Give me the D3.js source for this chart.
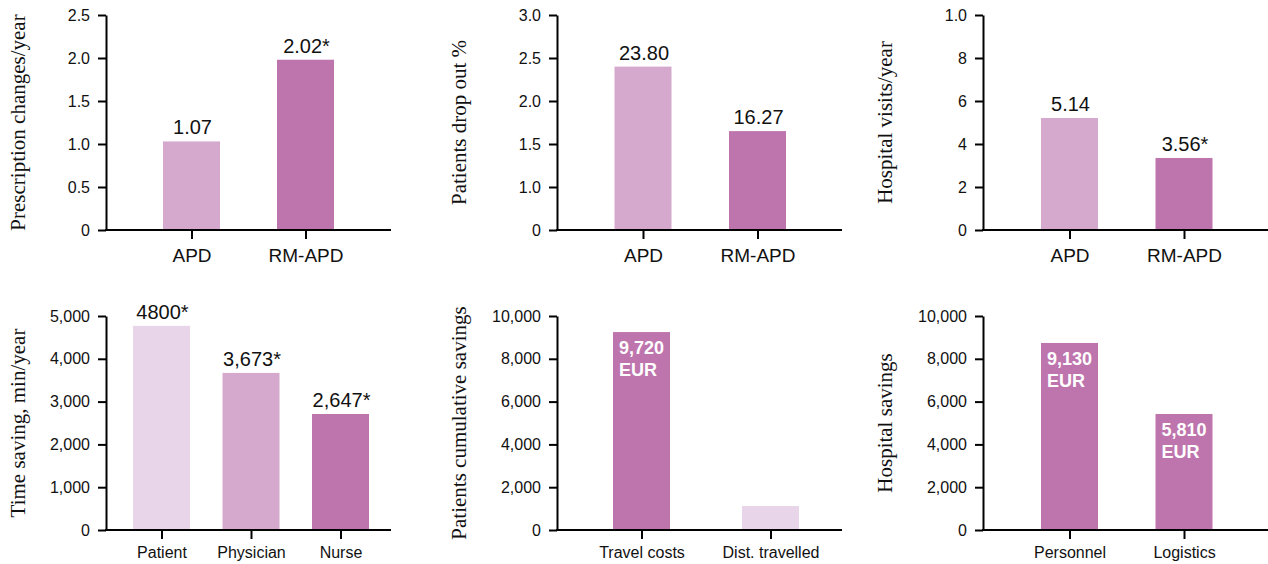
<!DOCTYPE html>
<html><head><meta charset="utf-8">
<script src="https://cdn.jsdelivr.net/npm/d3@7"></script>
<style>
html,body{margin:0;padding:0;background:#fff;}
svg{display:block;}
</style></head>
<body>
<svg id="chart" width="1268" height="564"></svg>
<script>
// ---------- DATA ----------
const p1Categories = ["APD", "RM-APD"];
const p1Values = [1.03, 1.98];
const p1ValueLabels = ["1.07", "2.02*"];
const p1TickValues = [0, 0.5, 1, 1.5, 2, 2.5];
const p1TickLabels = ["0", "0.5", "1.0", "1.5", "2.0", "2.5"];
const p1Title = "Prescription changes/year";

const p2Categories = ["APD", "RM-APD"];
const p2Values = [2.40, 1.65];
const p2ValueLabels = ["23.80", "16.27"];
const p2TickValues = [0, 1, 1.5, 2, 2.5, 3];
const p2TickLabels = ["0", "1.0", "1.5", "2.0", "2.5", "3.0"];
const p2Title = "Patients drop out %";

const p3Categories = ["APD", "RM-APD"];
const p3Values = [5.21, 3.35];
const p3ValueLabels = ["5.14", "3.56*"];
const p3TickValues = [0, 2, 4, 6, 8, 10];
const p3TickLabels = ["0", "2", "4", "6", "8", "1.0"];
const p3Title = "Hospital visits/year";

const p4Categories = ["Patient", "Physician", "Nurse"];
const p4Values = [4770, 3670, 2710];
const p4ValueLabels = ["4800*", "3,673*", "2,647*"];
const p4TickValues = [0, 1000, 2000, 3000, 4000, 5000];
const p4TickLabels = ["0", "1,000", "2,000", "3,000", "4,000", "5,000"];
const p4Title = "Time saving, min/year";

const p5Categories = ["Travel costs", "Dist. travelled"];
const p5Values = [9250, 1120];
const p5InnerLabels = [["9,720", "EUR"], []];
const p5TickValues = [0, 2000, 4000, 6000, 8000, 10000];
const p5TickLabels = ["0", "2,000", "4,000", "6,000", "8,000", "10,000"];
const p5Title = "Patients cumulative savings";

const p6Categories = ["Personnel", "Logistics"];
const p6Values = [8740, 5420];
const p6InnerLabels = [["9,130", "EUR"], ["5,810", "EUR"]];
const p6TickValues = [0, 2000, 4000, 6000, 8000, 10000];
const p6TickLabels = ["0", "2,000", "4,000", "6,000", "8,000", "10,000"];
const p6Title = "Hospital savings";

// ---------- STYLE ----------
const C_LIGHTEST = "#E9D5E9", C_LIGHT = "#D5A9CE", C_DARK = "#BE75AD";
const SANS = "'Liberation Sans', Arial, Helvetica, sans-serif";
const SERIF = "'Liberation Serif', 'Times New Roman', serif";

const panels = [
  {cats:p1Categories, vals:p1Values, vlabels:p1ValueLabels, ticks:p1TickValues, tlabels:p1TickLabels, title:p1Title,
   colors:[C_LIGHT, C_DARK], ax:106, right:391, top:15, bottom:230, c0:191.5, c1:305.5, catFont:19, titleX:25,
   yDomain:[0, 2.5], yFrac:[0, 1]},
  {cats:p2Categories, vals:p2Values, vlabels:p2ValueLabels, ticks:p2TickValues, tlabels:p2TickLabels, title:p2Title,
   colors:[C_LIGHT, C_DARK], ax:557, right:842, top:15, bottom:230, c0:643, c1:757.5, catFont:19, titleX:466,
   yDomain:[0, 1, 3], yFrac:[0, 0.2, 1]},
  {cats:p3Categories, vals:p3Values, vlabels:p3ValueLabels, ticks:p3TickValues, tlabels:p3TickLabels, title:p3Title,
   colors:[C_LIGHT, C_DARK], ax:983, right:1268, top:15, bottom:230, c0:1069.5, c1:1184, catFont:19, titleX:892,
   yDomain:[0, 10], yFrac:[0, 1]},
  {cats:p4Categories, vals:p4Values, vlabels:p4ValueLabels, ticks:p4TickValues, tlabels:p4TickLabels, title:p4Title,
   colors:[C_LIGHTEST, C_LIGHT, C_DARK], ax:106, right:391, top:316, bottom:530, c0:161.5, c1:340.5, catFont:16, titleX:25,
   yDomain:[0, 5000], yFrac:[0, 1]},
  {cats:p5Categories, vals:p5Values, inner:p5InnerLabels, ticks:p5TickValues, tlabels:p5TickLabels, title:p5Title,
   colors:[C_DARK, C_LIGHTEST], ax:557, right:842, top:316, bottom:530, c0:641.5, c1:770.5, catFont:16, titleX:466,
   yDomain:[0, 10000], yFrac:[0, 1]},
  {cats:p6Categories, vals:p6Values, inner:p6InnerLabels, ticks:p6TickValues, tlabels:p6TickLabels, title:p6Title,
   colors:[C_DARK, C_DARK], ax:983, right:1268, top:316, bottom:530, c0:1069.5, c1:1184, catFont:16, titleX:892,
   yDomain:[0, 10000], yFrac:[0, 1]}
];

const svg = d3.select("#chart");
const BAR_W = 57;

panels.forEach(p => {
  const g = svg.append("g");
  const h = p.bottom - p.top;
  const y = d3.scaleLinear().domain(p.yDomain).range(p.yFrac.map(f => p.bottom - f * h));
  const x = d3.scalePoint().domain(p.cats).range([p.c0, p.c1]);

  // bars
  g.selectAll("rect.bar").data(p.vals).enter().append("rect")
    .attr("class", "bar")
    .attr("x", (d, i) => x(p.cats[i]) - BAR_W / 2)
    .attr("width", BAR_W)
    .attr("y", d => y(d))
    .attr("height", d => y(0) - y(d))
    .attr("fill", (d, i) => p.colors[i]);

  // value labels above
  if (p.vlabels) {
    g.selectAll("text.val").data(p.vals).enter().append("text")
      .attr("class", "val")
      .attr("x", (d, i) => x(p.cats[i]) + 1)
      .attr("y", d => y(d) - 7)
      .attr("text-anchor", "middle")
      .attr("font-family", SANS).attr("font-size", 20).attr("fill", "#111")
      .text((d, i) => p.vlabels[i]);
  }
  // inner labels
  if (p.inner) {
    p.vals.forEach((v, i) => {
      p.inner[i].forEach((t, j) => {
        g.append("text")
          .attr("x", x(p.cats[i]) - BAR_W / 2 + 6)
          .attr("y", y(v) + 22 + j * 22)
          .attr("font-family", SANS).attr("font-size", 18).attr("font-weight", "bold")
          .attr("fill", "#fff")
          .text(t);
      });
    });
  }

  // y axis
  const yAxis = d3.axisLeft(y).tickValues(p.ticks)
    .tickFormat((d, i) => p.tlabels[i]).tickSize(8).tickSizeOuter(0).tickPadding(8);
  const ya = g.append("g").attr("transform", `translate(${p.ax},0)`).call(yAxis);
  ya.select(".domain").attr("stroke", "#000").attr("stroke-width", 2);
  ya.selectAll(".tick line").attr("stroke", "#000").attr("stroke-width", 2);
  ya.selectAll(".tick text").attr("font-family", SANS).attr("font-size", 16).attr("fill", "#111");

  // x axis
  const xAxis = d3.axisBottom(x).tickSize(9).tickSizeOuter(0).tickPadding(p.catFont > 17 ? 10 : 8);
  const xa = g.append("g").attr("transform", `translate(0,${p.bottom})`).call(xAxis);
  xa.select(".domain").remove();
  xa.selectAll(".tick line").attr("stroke", "#000").attr("stroke-width", 2);
  xa.selectAll(".tick text").attr("font-family", SANS).attr("font-size", p.catFont).attr("fill", "#111");
  g.append("line")
    .attr("x1", p.ax - 1).attr("x2", p.right)
    .attr("y1", p.bottom).attr("y2", p.bottom)
    .attr("stroke", "#000").attr("stroke-width", 2);

  // y title
  g.append("text")
    .attr("transform", `translate(${p.titleX},${(p.top + p.bottom) / 2}) rotate(-90)`)
    .attr("text-anchor", "middle")
    .attr("font-family", SERIF).attr("font-size", 21).attr("fill", "#111")
    .text(p.title);
});
</script>
</body></html>
